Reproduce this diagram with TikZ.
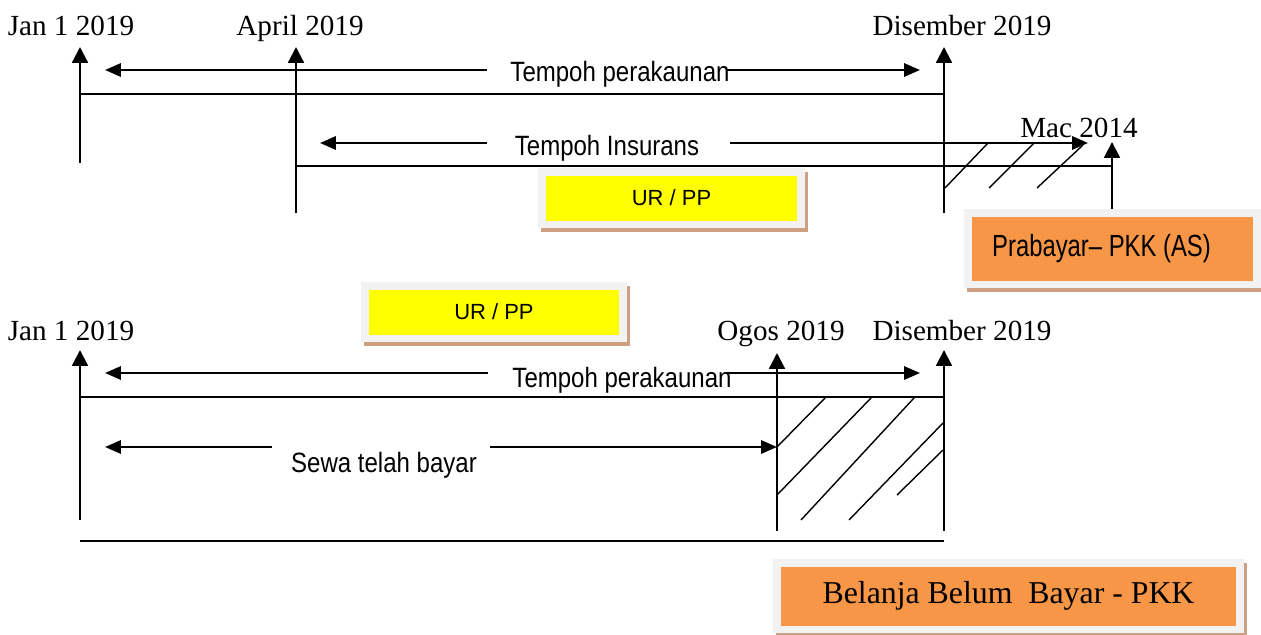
\documentclass[tikz,border=0pt]{standalone}
\usepackage{fontspec}
\setmainfont{Liberation Serif}
\setsansfont{Liberation Sans}
\newfontfamily\narrowsf[FakeStretch=0.86]{Liberation Sans}
\newfontfamily\narrowersf[FakeStretch=0.78]{Liberation Sans}
\usetikzlibrary{arrows.meta,shadows}
\definecolor{boxorange}{RGB}{247,150,70}
\definecolor{boxrim}{RGB}{242,242,242}
\definecolor{boxshade}{RGB}{204,160,128}
\definecolor{boxyellow}{RGB}{255,255,0}

\begin{document}
\begin{tikzpicture}[x=0.02cm,y=-0.02cm,
  date/.style={font=\fontsize{16.6}{20}\selectfont,inner sep=0,anchor=base},
  period/.style={font=\narrowsf\fontsize{15.9}{19}\selectfont,inner sep=0,anchor=base},
  tickline/.style={line width=1.25pt,-{Triangle[length=9pt,width=9pt]}},
  span/.style={line width=1.25pt,-{Triangle[length=9pt,width=7.5pt]}},
  rule/.style={line width=0.95pt},
  hatch/.style={line width=0.8pt},
  boxframe/.style={fill=boxrim,inner sep=0,
    general shadow={fill=boxshade,shadow xshift=1.5pt,shadow yshift=-2.5pt},
    path picture={\fill[#1] ([shift={(4.5pt,4pt)}]path picture bounding box.south west)
      rectangle ([shift={(-4.5pt,-4.5pt)}]path picture bounding box.north east);}}]
  \useasboundingbox (0,0) rectangle (1261,635);

  % top timeline: insurance
  \node[date] (jan1) at (71,36) {Jan 1 2019};
  \node[date] (apr1) at (300,36) {April 2019};
  \node[date] (dis1) at (962,36) {Disember 2019};
  \node[date] (mac1) at (1079,137) {Mac 2014};
  \coordinate (jan1b) at (80,163);   \coordinate (jan1t) at (80,47);
  \coordinate (apr1b) at (296,213);  \coordinate (apr1t) at (296,47);
  \coordinate (dis1b) at (944,213);  \coordinate (dis1t) at (944,47);
  \coordinate (mac1b) at (1112,209); \coordinate (mac1t) at (1112,142);
  \draw[tickline] (jan1b) -- (jan1t);
  \draw[tickline] (apr1b) -- (apr1t);
  \draw[tickline] (dis1b) -- (dis1t);
  \draw[tickline] (mac1b) -- (mac1t);
  \coordinate (acc1a) at (80,94);   \coordinate (acc1b) at (944,94);
  \coordinate (ins1a) at (296,166); \coordinate (ins1b) at (1112,166);
  \draw[rule] (acc1a) -- (acc1b);
  \draw[rule] (ins1a) -- (ins1b);

  \node[period] (tp1) at (620,82) {Tempoh perakaunan};
  \coordinate (tp1l) at (487,70); \coordinate (tp1le) at (105,70);
  \coordinate (tp1r) at (727,70); \coordinate (tp1re) at (920,70);
  \draw[span] (tp1l) -- (tp1le);
  \draw[span] (tp1r) -- (tp1re);
  \node[period] (ti1) at (607,155) {Tempoh Insurans};
  \coordinate (ti1l) at (487,143); \coordinate (ti1le) at (320,143);
  \coordinate (ti1r) at (730,143); \coordinate (ti1re) at (1088,143);
  \draw[span] (ti1l) -- (ti1le);
  \draw[span] (ti1r) -- (ti1re);

  \draw[hatch] (945,188) -- (988,143);
  \draw[hatch] (989,188) -- (1034,143);
  \draw[hatch] (1037,188) -- (1083,145);

  \node[boxframe=boxyellow,minimum width=5.34cm,minimum height=1.2cm,
    font=\sffamily\fontsize{12.5}{15}\selectfont] (ur1) at (671.5,198) {UR / PP};
  \node[boxframe=boxorange,minimum width=5.94cm,minimum height=1.58cm,
    font=\narrowersf\fontsize{17.4}{20}\selectfont] (pra) at (1112.5,248.5)
    {Prabayar– PKK (AS)\hspace*{12.5pt}};

  % bottom timeline: rent
  \node[boxframe=boxyellow,minimum width=5.32cm,minimum height=1.2cm,
    font=\sffamily\fontsize{12.5}{15}\selectfont] (ur2) at (494,312) {UR / PP};
  \node[date] (jan2) at (71,340) {Jan 1 2019};
  \node[date] (ogo2) at (781,340) {Ogos 2019};
  \node[date] (dis2) at (962,340) {Disember 2019};
  \coordinate (jan2b) at (80,520);  \coordinate (jan2t) at (80,350);
  \coordinate (ogo2b) at (777,531); \coordinate (ogo2t) at (777,353);
  \coordinate (dis2b) at (944,531); \coordinate (dis2t) at (944,350);
  \draw[tickline] (jan2b) -- (jan2t);
  \draw[tickline] (ogo2b) -- (ogo2t);
  \draw[tickline] (dis2b) -- (dis2t);
  \coordinate (acc2a) at (80,397); \coordinate (acc2b) at (944,397);
  \coordinate (end2a) at (80,541); \coordinate (end2b) at (944,541);
  \draw[rule] (acc2a) -- (acc2b);
  \draw[rule] (end2a) -- (end2b);

  \node[period] (tp2) at (622,387) {Tempoh perakaunan};
  \coordinate (tp2l) at (488,373); \coordinate (tp2le) at (105,373);
  \coordinate (tp2r) at (727,373); \coordinate (tp2re) at (920,373);
  \draw[span] (tp2l) -- (tp2le);
  \draw[span] (tp2r) -- (tp2re);
  \node[period] (sewa) at (384,472) {Sewa telah bayar};
  \coordinate (sewal) at (272,447); \coordinate (sewale) at (105,447);
  \coordinate (sewar) at (490,447); \coordinate (seware) at (777,447);
  \draw[span] (sewal) -- (sewale);
  \draw[span] (sewar) -- (seware);

  \draw[hatch] (777,447) -- (825,398);
  \draw[hatch] (777,495) -- (871,398);
  \draw[hatch] (801,520) -- (914,398);
  \draw[hatch] (849,520) -- (943,423);
  \draw[hatch] (897,495) -- (943,450);

  \node[boxframe=boxorange,minimum width=9.42cm,minimum height=1.48cm,
    font=\fontsize{18.1}{22}\selectfont] (bel) at (1008.5,596)
    {Belanja Belum\ \ Bayar - PKK};
\end{tikzpicture}
\end{document}
